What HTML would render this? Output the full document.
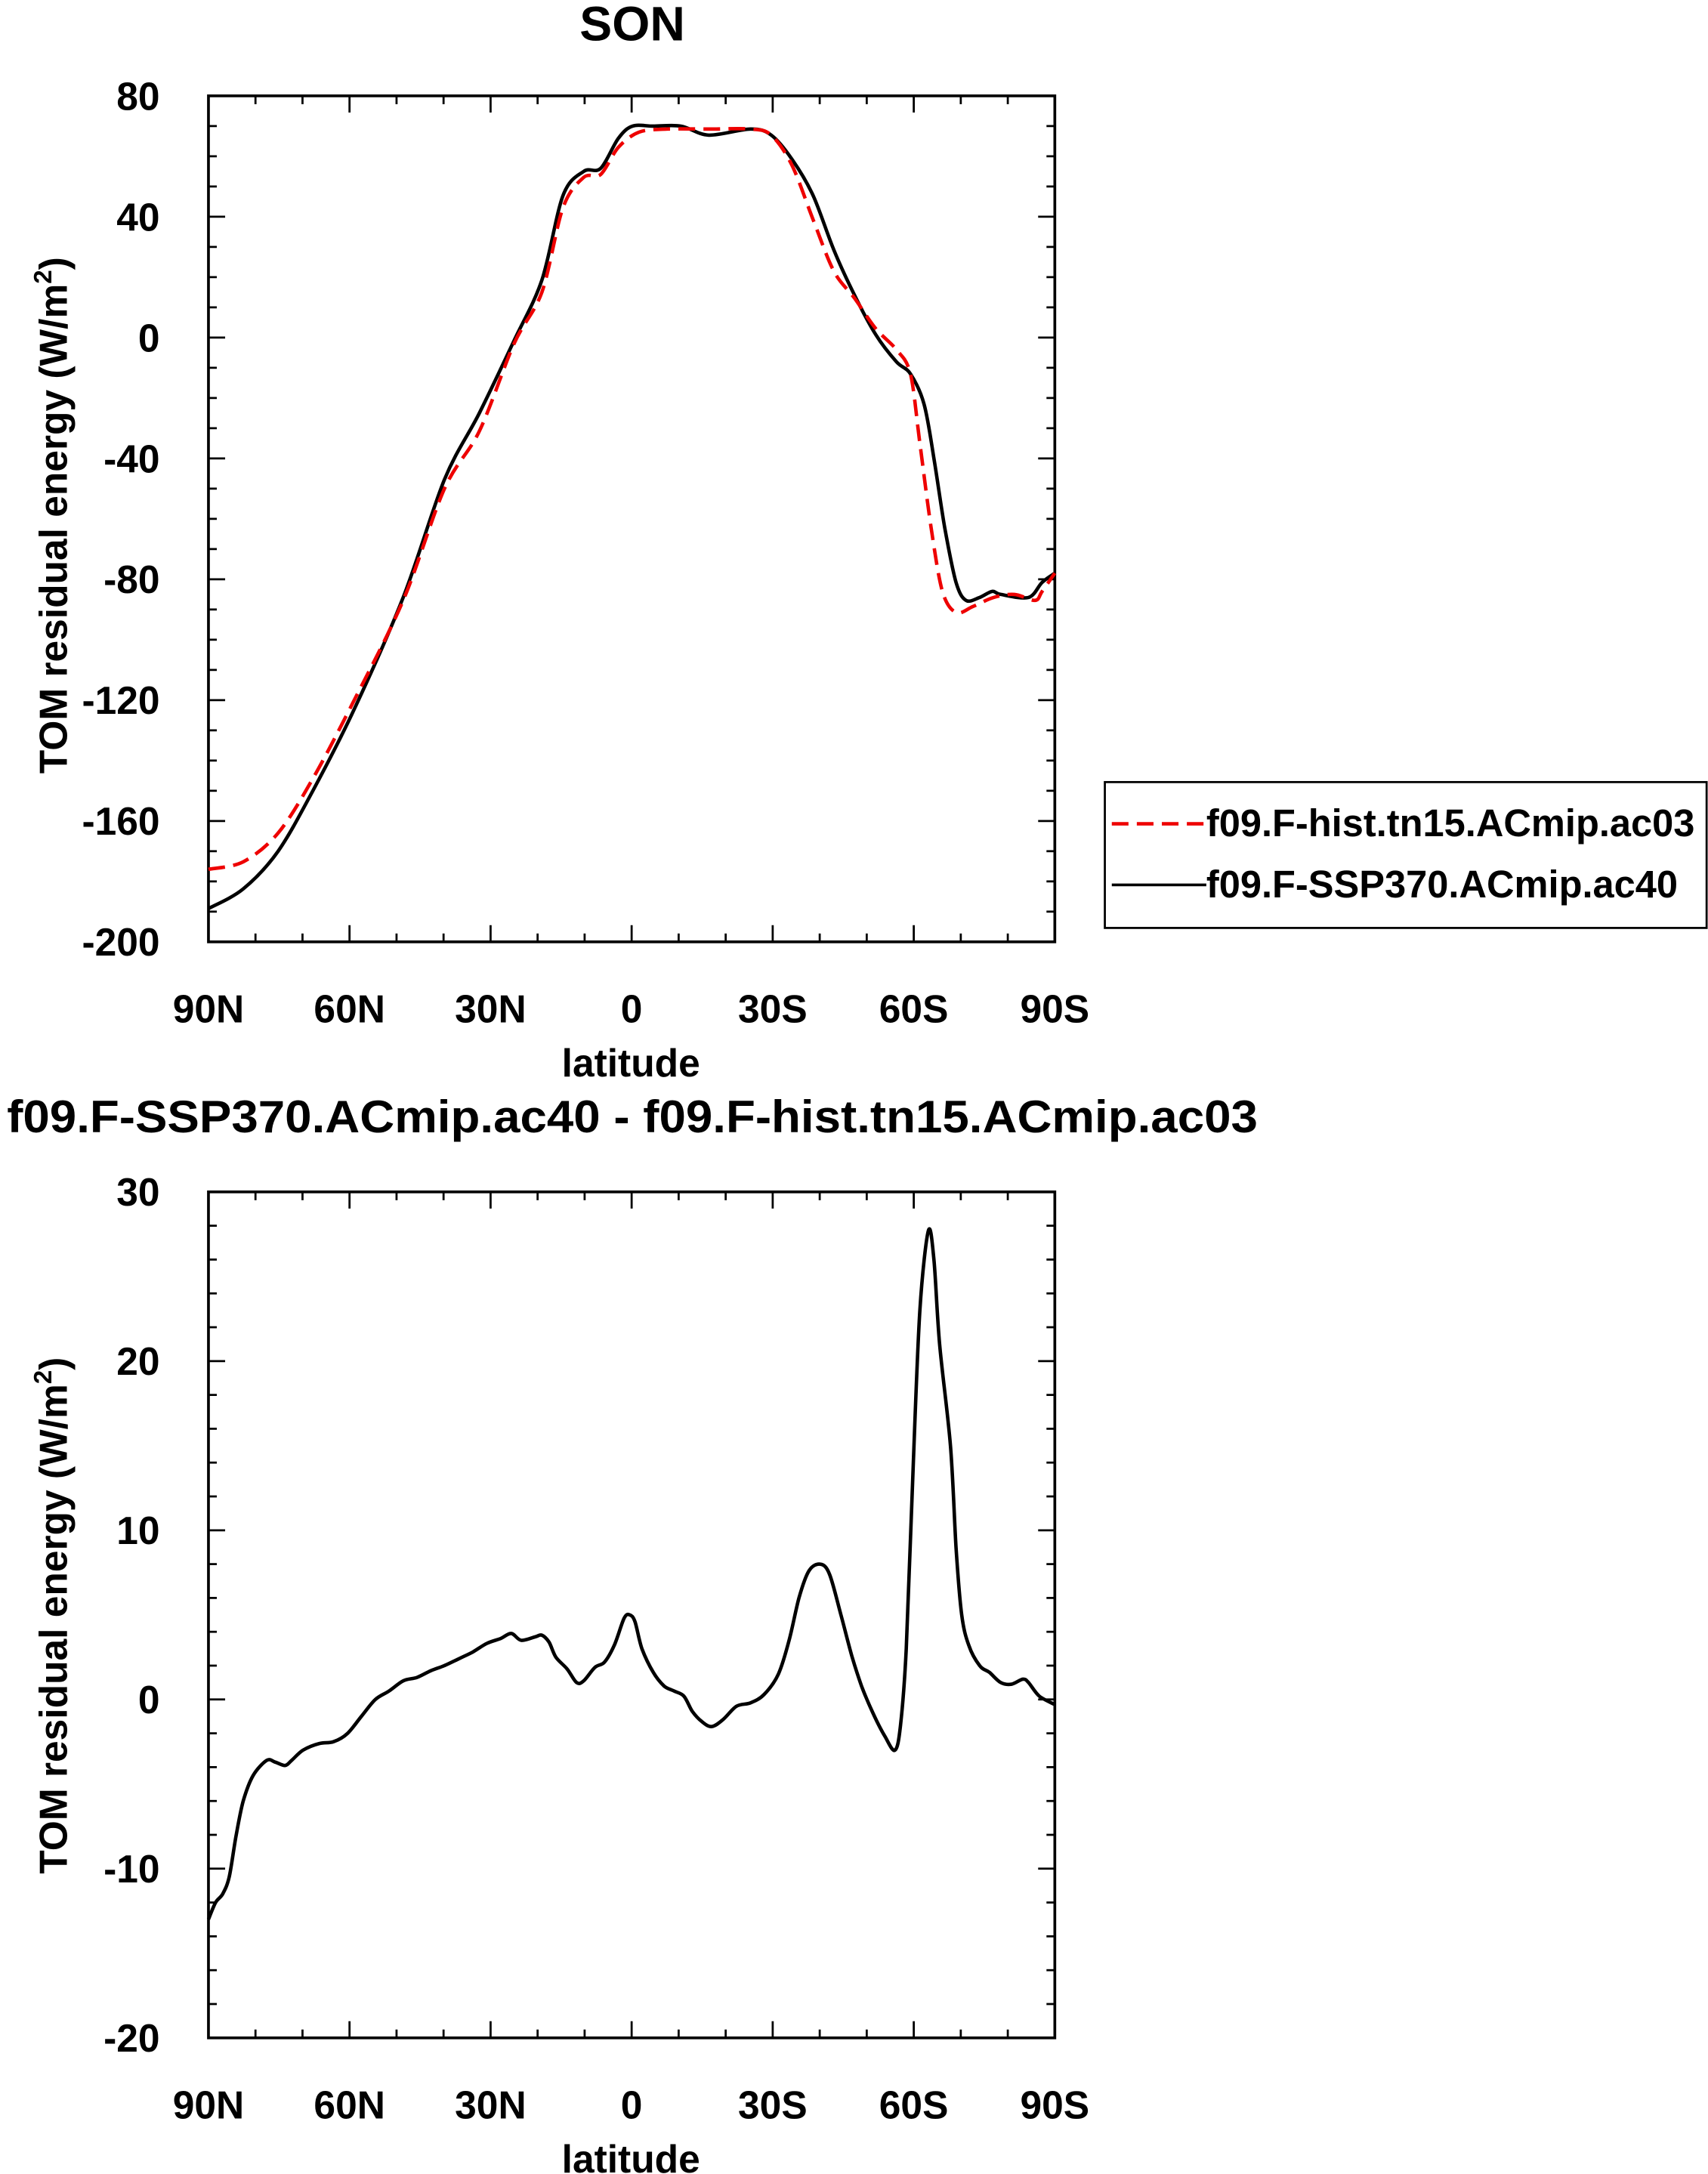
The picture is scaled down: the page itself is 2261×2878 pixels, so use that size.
<!DOCTYPE html>
<html><head><meta charset="utf-8"><style>
html,body{margin:0;padding:0;background:#fff;}
svg{display:block;font-family:"Liberation Sans",Arial,sans-serif;font-weight:bold;}
</style></head><body>
<svg id="chart" width="2261" height="2878" viewBox="0 0 1229 1565" preserveAspectRatio="none" xmlns="http://www.w3.org/2000/svg">
<text x="455" y="29" font-size="35" text-anchor="middle">SON</text>
<text x="5" y="815" font-size="33" textLength="900" lengthAdjust="spacingAndGlyphs">f09.F-SSP370.ACmip.ac40 - f09.F-hist.tn15.ACmip.ac03</text>
<g id="top"></g>
<g id="bot"></g>
<g>
<rect x="795" y="563" width="433" height="105" fill="none" stroke="#000" stroke-width="1.5"/>
<line x1="800" y1="593" x2="868" y2="593" stroke="#e00" stroke-width="2.5" stroke-dasharray="12,6"/>
<text x="868" y="602" font-size="27.5">f09.F-hist.tn15.ACmip.ac03</text>
<line x1="800" y1="637" x2="868" y2="637" stroke="#000" stroke-width="2"/>
<text x="868" y="646" font-size="27.5">f09.F-SSP370.ACmip.ac40</text>
</g>
</svg>
<script>
const blackLat=[90,82.6,75.2,67.8,59.0,48.6,39.8,32.4,25.0,19.1,14.6,10.2,6.6,2.8,-0.2,-4.6,-10.5,-16.4,-25.3,-29.7,-34.1,-38.6,-43.0,-47.4,-51.9,-56.3,-59.3,-62.2,-64.3,-66.6,-69.0,-71.1,-74.0,-76.7,-78.5,-84.4,-87.3,-90];
const blackVal=[-189,-182.5,-170,-150,-123,-86,-47,-25,-1,19,47,55,56,66,70,70,70,67,69,67,59,47,29,14,1,-8,-12,-22,-40,-63,-81,-87,-86,-84,-85,-86,-81,-78];
const redLat=[90,82.6,75.2,67.8,59.0,48.6,39.8,32.4,25.0,19.1,14.6,10.2,6.6,2.8,-1.6,-7.5,-16.4,-25.3,-29.7,-34.1,-38.6,-43.0,-47.4,-51.9,-56.3,-59.3,-61.3,-63.7,-66.1,-69.0,-72.6,-77.0,-81.4,-85.8,-87.3,-90];
const redVal=[-176,-173.5,-164,-146,-120,-87,-50,-31,-2,15,43,53,54,63,68,69,69,69,67,57,39,22,13,3,-4,-12,-35,-63,-84,-91,-89,-86,-85,-87,-84,-78];
const diffLat=[90,88.5,87.0,85.6,84.1,82.6,80.5,77.6,75.8,73.7,72.3,69.9,66.4,63.4,60.4,57.5,54.5,51.6,48.6,45.7,42.7,39.8,36.8,33.8,30.9,27.9,25.6,23.5,20.5,19.1,17.6,16.1,13.7,11.7,10.2,7.8,5.8,3.7,1.6,0.4,-0.7,-2.2,-4.6,-6.9,-9.0,-11.1,-12.9,-14.9,-17.0,-19.4,-22.3,-25.3,-28.2,-31.2,-33.5,-35.6,-37.7,-40.1,-42.1,-44.5,-46.9,-48.9,-51.3,-53.9,-56.0,-57.2,-58.4,-59.9,-61.3,-63.1,-64.3,-65.5,-67.8,-69.0,-70.2,-71.7,-74.0,-76.1,-78.5,-80.8,-83.2,-84.4,-86.7,-90];
const diffVal=[-13,-12,-11.5,-10.5,-8,-6,-4.5,-3.6,-3.7,-3.9,-3.6,-3,-2.6,-2.5,-2,-1,0,0.5,1.1,1.3,1.7,2,2.4,2.8,3.3,3.6,3.9,3.5,3.7,3.8,3.4,2.5,1.8,1,1.1,1.9,2.2,3.2,4.8,5,4.6,3,1.6,0.8,0.5,0.2,-0.7,-1.3,-1.6,-1.2,-0.4,-0.2,0.3,1.5,3.5,6,7.6,8,7.4,5,2.5,0.8,-0.8,-2.2,-3,-1.5,3,14,23,27.7,26,21,15,9,5,3.2,2,1.6,1,0.9,1.2,1,0.2,-0.3];
const xTickLabels=["90N","60N","30N","0","30S","60S","90S"];
const xTickLats=[90,60,30,0,-30,-60,-90];
const topYTicks=[80,40,0,-40,-80,-120,-160,-200];
const botYTicks=[30,20,10,0,-10,-20];

const NS="http://www.w3.org/2000/svg";
function mk(tag,attrs,parent,txt){const e=document.createElementNS(NS,tag);for(const k in attrs)e.setAttribute(k,attrs[k]);if(txt!==undefined)e.textContent=txt;parent.appendChild(e);return e;}
const L=150,R=759;
const xs=lat=>L+(90-lat)/180*(R-L);

function panel(g,top,bot,ymax,ymin,major,minor,yticks,ytitleY,latY){
  const ys=v=>top+(ymax-v)/(ymax-ymin)*(bot-top);
  const frame=mk('rect',{x:L,y:top,width:R-L,height:bot-top,fill:'none',stroke:'#000','stroke-width':2},g);
  
  
  for(let v=ymin;v<=ymax+1e-9;v+=minor){
    const isM=Math.abs(Math.round(v/major)*major-v)<1e-6;const len=isM?12:6;const y=ys(v);
    mk('line',{x1:L,y1:y,x2:L+len,y2:y,stroke:'#000','stroke-width':1.5},g);
    mk('line',{x1:R,y1:y,x2:R-len,y2:y,stroke:'#000','stroke-width':1.5},g);
  }
  for(let lat=90;lat>=-90;lat-=10){
    const isM=lat%30===0;const len=isM?12:6;const x=xs(lat);
    mk('line',{x1:x,y1:bot,x2:x,y2:bot-len,stroke:'#000','stroke-width':1.5},g);
    mk('line',{x1:x,y1:top,x2:x,y2:top+len,stroke:'#000','stroke-width':1.5},g);
  }
  yticks.forEach(v=>{const t=mk('text',{x:115,y:ys(v)+10,'font-size':28,'text-anchor':'end'},g,String(v));
    
    });
  xTickLats.forEach((lat,i)=>{const t=mk('text',{x:xs(lat),y:bot+58,'font-size':28,'text-anchor':'middle'},g,xTickLabels[i]);
    
    });
  const xt=mk('text',{x:454,y:latY,'font-size':28,'text-anchor':'middle'},g,'latitude');
  
  
  const yt=mk('text',{x:0,y:0,'font-size':28,'text-anchor':'middle',transform:`translate(48,${ytitleY}) rotate(-90)`},g);
  
  
  yt.innerHTML='TOM residual energy (W/m<tspan font-size="18" dy="-11">2</tspan><tspan dy="11">)</tspan>';
  return ys;
}
function line(g,lat,val,ys,color,dash,name){
  const P=lat.map((la,i)=>[xs(la),ys(val[i])]);
  let d='M'+P[0][0].toFixed(1)+','+P[0][1].toFixed(1);
  for(let i=0;i<P.length-1;i++){
    const p0=P[Math.max(0,i-1)],p1=P[i],p2=P[i+1],p3=P[Math.min(P.length-1,i+2)];
    const t=0.16;
    const c1=[p1[0]+(p2[0]-p0[0])*t,p1[1]+(p2[1]-p0[1])*t];
    const c2=[p2[0]-(p3[0]-p1[0])*t,p2[1]-(p3[1]-p1[1])*t];
    d+=` C${c1[0].toFixed(1)},${c1[1].toFixed(1)} ${c2[0].toFixed(1)},${c2[1].toFixed(1)} ${p2[0].toFixed(1)},${p2[1].toFixed(1)}`;
  }
  const p=mk('path',{d,fill:'none',stroke:color,'stroke-width':2.5,'stroke-linejoin':'round'},g);
  if(dash)p.setAttribute('stroke-dasharray',dash);
  
  
}
const gt=document.getElementById('top'),gb=document.getElementById('bot');
const ysT=panel(gt,69,678,80,-200,40,10,topYTicks,371,775);
line(gt,blackLat,blackVal,ysT,'#000',null,'series-ssp370');
line(gt,redLat,redVal,ysT,'#e00','12,6','series-hist');
const ysB=panel(gb,858,1467,30,-20,10,2,botYTicks,1163,1564);
line(gb,diffLat,diffVal,ysB,'#000',null,'series-difference');
</script>
</body></html>
